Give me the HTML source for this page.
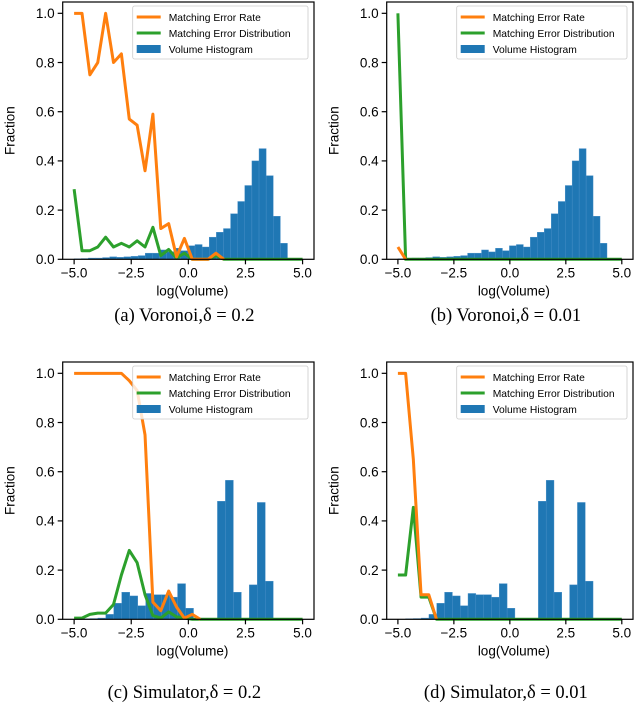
<!DOCTYPE html>
<html><head><meta charset="utf-8"><style>
body{margin:0;background:#fff;width:640px;height:715px;overflow:hidden}
svg{display:block}
text{font-family:"Liberation Sans",sans-serif;fill:#000}
.cap{font-family:"Liberation Serif",serif;font-size:18.5px}
</style></head><body>
<svg id="fig" width="640" height="715" xmlns="http://www.w3.org/2000/svg"></svg>
<script>
const xTicks=[-5,-2.5,0,2.5,5];
const xTickLabels=["\u22125.0","\u22122.5","0.0","2.5","5.0"];
const yTicks=[0,0.2,0.4,0.6,0.8,1.0];
const yTickLabels=["0.0","0.2","0.4","0.6","0.8","1.0"];
// Voronoi histogram: 30 bins from -5, width 0.3113
const histVorStart=-5, histVorWidth=0.3113;
const histVor=[0.002,0.003,0.005,0.005,0.007,0.01,0.008,0.01,0.012,0.015,0.025,0.025,0.038,0.03,0.045,0.035,0.055,0.06,0.05,0.09,0.11,0.125,0.185,0.235,0.3,0.4,0.45,0.34,0.175,0.065];
// Simulator histogram
const histSimStart=-4.66, histSimWidth=0.349;
const histSim=[0.002,0.003,0.005,0.02,0.065,0.11,0.095,0.055,0.105,0.1,0.1,0.09,0.145,0.045,0,0,0,0.48,0.565,0.11,0,0.14,0.475,0.155];
// line x positions: 30 points from -5 to 5
const lineStart=-5, lineEnd=5, lineN=30;
const rateA=[1.0,1.0,0.75,0.8,1.0,0.8,0.835,0.57,0.545,0.36,0.59,0.125,0.145,0.01,0.085,0.0,0.0,0.0,0.025,0.0];
const distA=[0.285,0.035,0.035,0.05,0.09,0.05,0.065,0.05,0.075,0.05,0.13,0.015,0.04,0.005,0.025,0,0,0,0.015,0,0,0,0,0,0,0,0,0,0,0];
const rateB=[0.05,0.0];
const distB=[1.0,0,0,0,0,0,0,0,0,0,0,0,0,0,0,0,0,0,0,0,0,0,0,0,0,0,0,0,0,0];
const rateC=[1.0,1.0,1.0,1.0,1.0,1.0,1.0,0.97,0.93,0.75,0.07,0.035,0.115,0.05,0.005,0.02,0.0];
const distC=[0.005,0.005,0.02,0.025,0.025,0.06,0.18,0.28,0.23,0.1,0.015,0.005,0.03,0.01,0.005,0,0,0,0,0,0,0,0,0,0,0,0,0,0,0];
const rateD=[1.0,1.0,0.65,0.1,0.1,0.0];
const distD=[0.18,0.18,0.455,0.09,0.09,0,0,0,0,0,0,0,0,0,0,0,0,0,0,0,0,0,0,0,0,0,0,0,0,0];

const NS="http://www.w3.org/2000/svg";
const fig=document.getElementById('fig');
function mk(tag,attrs,parent){const e=document.createElementNS(NS,tag);for(const k in attrs)e.setAttribute(k,attrs[k]);(parent||fig).appendChild(e);return e;}

const panels=[
 {L:62.7,R:314,T:2,B:259.3,hist:histVor,hs:histVorStart,hw:histVorWidth,rate:rateA,dist:distA,cap:"(a) Voronoi,\u03b4 = 0.2",capY:321,name:"panel-a"},
 {L:386.7,R:633,T:2,B:259.3,hist:histVor,hs:histVorStart,hw:histVorWidth,rate:rateB,dist:distB,cap:"(b) Voronoi,\u03b4 = 0.01",capY:321,name:"panel-b"},
 {L:62.7,R:314,T:362,B:619.3,hist:histSim,hs:histSimStart,hw:histSimWidth,rate:rateC,dist:distC,cap:"(c) Simulator,\u03b4 = 0.2",capY:698,name:"panel-c"},
 {L:386.7,R:633,T:362,B:619.3,hist:histSim,hs:histSimStart,hw:histSimWidth,rate:rateD,dist:distD,cap:"(d) Simulator,\u03b4 = 0.01",capY:698,name:"panel-d"}
];
const xmin=-5.5,xmax=5.5,ymin=0,ymax=1.046;
panels.forEach(p=>{
 const g=mk('g',{});
 
 
 const X=v=>p.L+(v-xmin)/(xmax-xmin)*(p.R-p.L);
 const Y=v=>p.B-(v-ymin)/(ymax-ymin)*(p.B-p.T);
 p.hist.forEach((v,i)=>{
  if(v<=0)return;
  const x0=X(p.hs+i*p.hw),x1=X(p.hs+(i+1)*p.hw);
  const r=mk('rect',{x:x0,y:Y(v),width:x1-x0,height:Y(0)-Y(v),fill:'#1f77b4',stroke:'#4a90c8','stroke-width':0.4},g);
  
  
 });
 const lx=i=>lineStart+i*(lineEnd-lineStart)/(lineN-1);
 const poly=(arr,col,nm)=>{
  const pts=arr.map((v,i)=>X(lx(i)).toFixed(2)+','+Y(v).toFixed(2)).join(' ');
  const l=mk('polyline',{points:pts,fill:'none',stroke:col,'stroke-width':3,'stroke-linejoin':'round'},g);
  
  
 };
 poly(p.dist,'#2ca02c','error-distribution-line');
 poly(p.rate,'#ff7f0e','error-rate-line');
 const f=mk('rect',{x:p.L,y:p.T,width:p.R-p.L,height:p.B-p.T,fill:'none',stroke:'#000','stroke-width':1.2},g);
 
 
 xTicks.forEach((t,i)=>{
  mk('line',{x1:X(t),x2:X(t),y1:p.B,y2:p.B+5,stroke:'#000','stroke-width':1.2},g);
  const tx=mk('text',{x:X(t),y:p.B+18,'text-anchor':'middle','font-size':13.5},g);
  tx.textContent=xTickLabels[i];
  
  
 });
 yTicks.forEach((t,i)=>{
  mk('line',{x1:p.L-5,x2:p.L,y1:Y(t),y2:Y(t),stroke:'#000','stroke-width':1.2},g);
  const tx=mk('text',{x:p.L-8,y:Y(t)+4.8,'text-anchor':'end','font-size':13.5},g);
  tx.textContent=yTickLabels[i];
  
  
 });
 const xl=mk('text',{x:(p.L+p.R)/2+4,y:p.B+36,'text-anchor':'middle','font-size':13.5},g);
 xl.textContent='log(Volume)';
 
 
 const yl=mk('text',{x:0,y:0,'text-anchor':'middle','font-size':13.5,transform:`translate(${p.L-48},${(p.T+p.B)/2}) rotate(-90)`},g);
 yl.textContent='Fraction';
 
 
 const lgX=p.L+70,lgY=p.T+4;
 const lg=mk('g',{},g);
 
 
 mk('rect',{x:lgX,y:lgY,width:p.R-lgX-6,height:53,rx:2,fill:'#fff','fill-opacity':0.8,stroke:'#ccc','stroke-width':0.8},lg);
 const items=[['Matching Error Rate','#ff7f0e','line'],['Matching Error Distribution','#2ca02c','line'],['Volume Histogram','#1f77b4','box']];
 items.forEach((it,k)=>{
  const cy=lgY+11+k*16;
  if(it[2]==='line') mk('line',{x1:lgX+4,x2:lgX+28,y1:cy,y2:cy,stroke:it[1],'stroke-width':3},lg);
  else mk('rect',{x:lgX+4,y:cy-4,width:24,height:8,fill:it[1]},lg);
  const t=mk('text',{x:lgX+36,y:cy+3.8,'font-size':10.3},lg);
  t.textContent=it[0];
  
  
 });
 const c=mk('text',{x:(p.L+p.R)/2-4,y:p.capY,'text-anchor':'middle',class:'cap'},g);
 c.textContent=p.cap;
 
 
});
</script>
</body></html>
